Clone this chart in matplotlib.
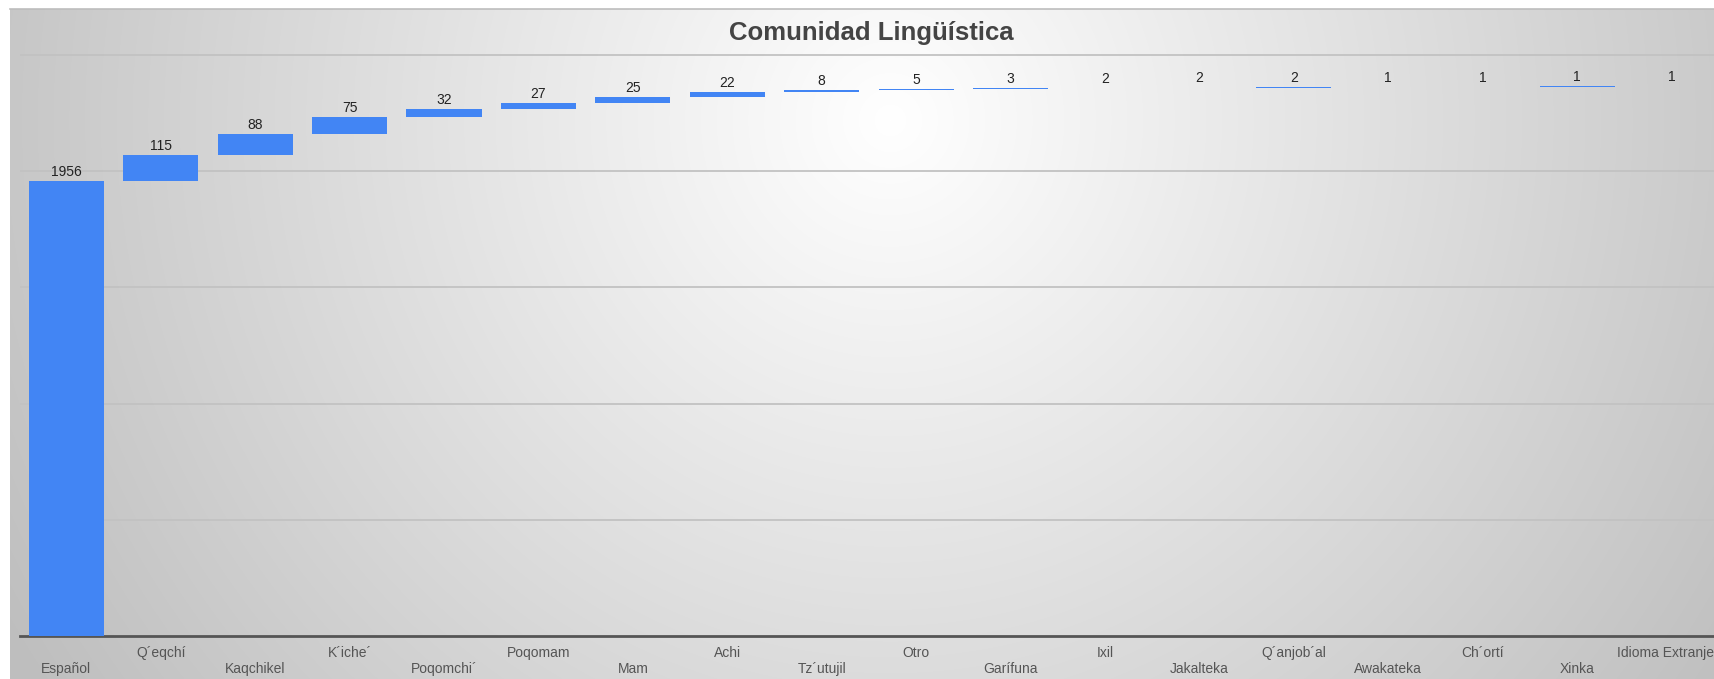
import numpy as np
import matplotlib
matplotlib.use("Agg")
import matplotlib.pyplot as plt
from matplotlib.lines import Line2D

plt.rcParams["font.family"] = ["Liberation Sans", "DejaVu Sans"]

# --- datos ---
idiomas = ["Español", "Q´eqchí", "Kaqchikel", "K´iche´", "Poqomchi´", "Poqomam",
           "Mam", "Achi", "Tz´utujil", "Otro", "Garífuna", "Ixil", "Jakalteka",
           "Q´anjob´al", "Awakateka", "Ch´ortí", "Xinka", "Idioma Extranjero"]
valores = [1956, 115, 88, 75, 32, 27, 25, 22, 8, 5, 3, 2, 2, 2, 1, 1, 1, 1]
titulo = "Comunidad Lingüística"

W, H = 1715, 679
fig = plt.figure(figsize=(W / 100, H / 100), dpi=100)
fig.patch.set_facecolor("white")

# --- fondo con degradado radial ---
gx0, gy0 = 10, 9
gw, gh = W - gx0, H - gy0
xx, yy = np.meshgrid(np.arange(gw) + gx0, np.arange(gh) + gy0)
r = np.sqrt(((xx - 890) / 900.0) ** 2 + ((yy - 120) / 900.0) ** 2)
gris = np.clip(255 - 57 * r, 190, 255) / 255.0
bg = fig.add_axes([gx0 / W, 0, gw / W, gh / H])
bg.imshow(np.dstack([gris, gris, gris]), aspect="auto", interpolation="bilinear")
bg.set_axis_off()
bg.set_zorder(-10)
fig.add_artist(Line2D([gx0 / W, 1], [gh / H, gh / H], color="#bdbdbd", lw=1.2))

# --- ejes principales ---
base_px, top_px, left_px = 636, 9, 20
ax = fig.add_axes([left_px / W, (H - base_px) / H, 1 - left_px / W, (base_px - top_px) / H])
ax.set_facecolor("none")

x = np.arange(len(valores))
acum = np.concatenate([[0], np.cumsum(valores)[:-1]])
ax.bar(x, valores, bottom=acum, width=0.795, color="#4285F4", linewidth=0, zorder=3)

for xi, b, v in zip(x, acum, valores):
    ax.annotate(str(v), (xi, b + v), xytext=(0, 1.5), textcoords="offset points",
                ha="center", va="bottom", fontsize=10, color="#222222", zorder=4)

ax.set_xlim(-0.49, 17.46)
ax.set_ylim(0, 2698)
ax.set_yticks([500, 1000, 1500, 2000, 2500])
ax.yaxis.grid(True, color="#c2c2c2", lw=1.3)
ax.set_axisbelow(True)
ax.tick_params(axis="y", left=False, labelleft=False)

ax.set_xticks(x)
ax.set_xticklabels(idiomas, fontsize=10, color="#555555")
ax.tick_params(axis="x", length=0)
for i, tick in enumerate(ax.xaxis.get_major_ticks()):
    tick.set_pad(18.5 if i % 2 == 0 else 7.5)

for lado in ["top", "left", "right"]:
    ax.spines[lado].set_visible(False)
ax.spines["bottom"].set_color("#555555")
ax.spines["bottom"].set_linewidth(2)

fig.text(871 / W, 1 - 33 / H, titulo, ha="center", va="center",
         fontsize=18.5, fontweight="bold", color="#444444")

fig.savefig("out.png", dpi=100)
